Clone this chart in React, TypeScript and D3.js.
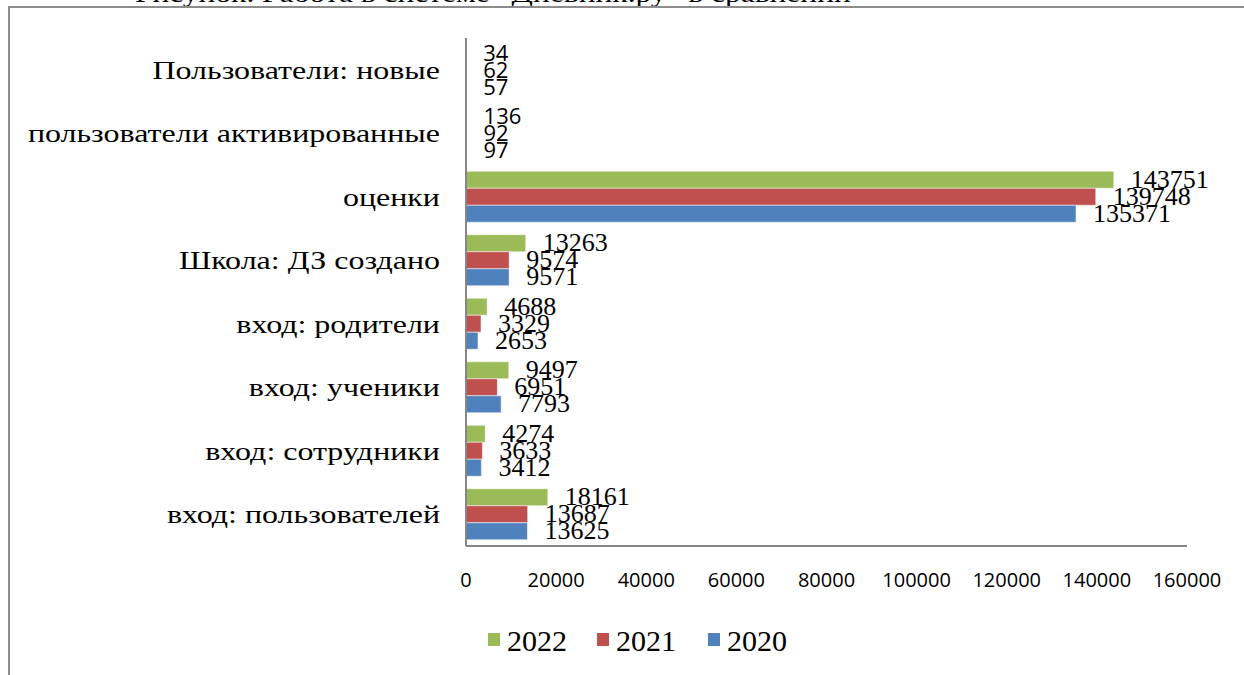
import React from 'react';
import * as d3 from 'd3';

const categories = [
  'Пользователи: новые',
  'пользователи активированные',
  'оценки',
  'Школа: ДЗ создано',
  'вход: родители',
  'вход: ученики',
  'вход: сотрудники',
  'вход: пользователей',
];
const seriesNames = ['2022', '2021', '2020'];
const values2022 = [34, 136, 143751, 13263, 4688, 9497, 4274, 18161];
const values2021 = [62, 92, 139748, 9574, 3329, 6951, 3633, 13687];
const values2020 = [57, 97, 135371, 9571, 2653, 7793, 3412, 13625];
const xTicks = [0, 20000, 40000, 60000, 80000, 100000, 120000, 140000, 160000];
const colors = ['#9BBB59', '#C0504D', '#4F81BD'];
const caption = 'Рисунок. Работа в системе “Дневник.ру” в сравнении';

const serif = '"Liberation Serif", "Times New Roman", Tinos, Times, serif';
const sans = '"Open Sans", "Noto Sans", sans-serif';

// horizontal stretch helper (the source picture is slightly widened)
const stretch = (x0: number, k: number) => `translate(${x0},0) scale(${k},1) translate(${-x0},0)`;

export default function App() {
  const W = 1244;
  const H = 675;
  const left = 466;
  const right = 1187;
  const top = 38;
  const bottom = 546;

  const x = d3.scaleLinear().domain([0, 160000]).range([left, right]);
  const y = d3.scaleBand().domain(categories).range([top, bottom]).padding(0);
  const inner = d3.scaleBand().domain(seriesNames).range([0, y.bandwidth()])
    .paddingInner(0).paddingOuter(0.368);

  const series = [values2022, values2021, values2020];

  return (
    <svg width={W} height={H} style={{ position: 'absolute', left: 0, top: 0, background: '#fff' }}>
      <rect x={0} y={0} width={W} height={H} fill="#fff" />
      {/* cut-off caption above the frame */}
      <text x={135} y={2} fontFamily={serif} fontSize={26} fill="#000"
        transform={stretch(135, 1.21)}>{caption}</text>
      {/* outer frame */}
      <path d={`M9,${H} V7 H${W}`} fill="none" stroke="#8c8c8c" strokeWidth={2} />

      {/* bars */}
      {categories.map((c, i) => (
        <g key={c}>
          {seriesNames.map((s, j) => {
            const v = series[j][i];
            const by = (y(c) as number) + (inner(s) as number);
            return (
              <rect key={s} x={x(0)} y={by} width={Math.max(0, x(v) - x(0))}
                height={inner.bandwidth()} fill={colors[j]}
                stroke="#ffffff" strokeOpacity={0.5} strokeWidth={1} />
            );
          })}
        </g>
      ))}

      {/* data labels */}
      {categories.map((c, i) => (
        <g key={'l' + c}>
          {seriesNames.map((s, j) => {
            const v = series[j][i];
            const by = (y(c) as number) + (inner(s) as number) + inner.bandwidth();
            const isSans = i < 2;
            const lx = x(v) + 17;
            return (
              <text key={s} x={lx} y={by - 0.5}
                fontFamily={isSans ? sans : serif} fontSize={isSans ? 22 : 26} fill="#000">
                {v}
              </text>
            );
          })}
        </g>
      ))}

      {/* category labels */}
      {categories.map((c) => (
        <text key={'c' + c} x={440} y={(y(c) as number) + y.bandwidth() / 2 + 9}
          textAnchor="end" fontFamily={serif} fontSize={26} fill="#000"
          transform={stretch(440, 1.23)}>{c}</text>
      ))}

      {/* axes */}
      <line x1={left} x2={left} y1={top} y2={bottom} stroke="#868686" strokeWidth={2} />
      <line x1={left} x2={right} y1={bottom} y2={bottom} stroke="#868686" strokeWidth={2} />
      {xTicks.map((t) => (
        <text key={'t' + t} x={x(t)} y={587} textAnchor="middle" fontFamily={sans}
          fontSize={20} fill="#000">{t}</text>
      ))}

      {/* legend */}
      {seriesNames.map((s, j) => {
        const lx = [488, 597, 708][j];
        return (
          <g key={'lg' + s}>
            <rect x={lx} y={633} width={12} height={13} fill={colors[j]} />
            <text x={lx + 19} y={651} fontFamily={serif} fontSize={30} fill="#000">{s}</text>
          </g>
        );
      })}
    </svg>
  );
}
